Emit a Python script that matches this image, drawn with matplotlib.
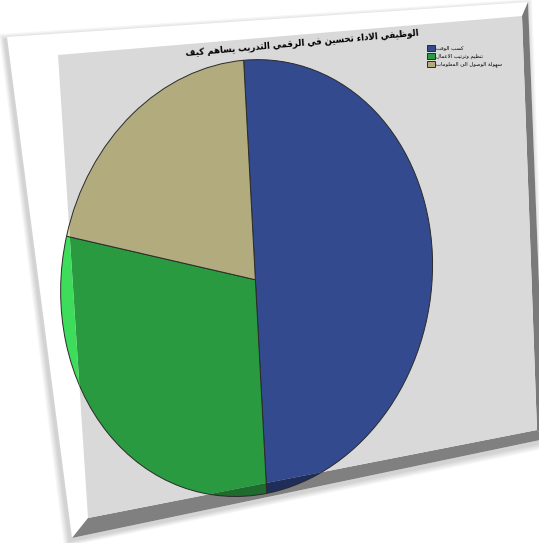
import numpy as np
import matplotlib.pyplot as plt
import matplotlib.transforms as mtransforms
from matplotlib.path import Path
from matplotlib.patches import Polygon

# survey answers (percent of respondents)
labels = ['كسب الوقت', 'تنظيم وترتيب الاعمال', 'سهولة الوصول الى المعلومات']
values = [50.0, 30.0, 20.0]
colors = ['#334a8e', '#2a9a40', '#b1ab7e']
colors_lit = ['#4a68c8', '#3ddc5a', '#d8d2a0']
colors_dark = ['#1f2d5a', '#1e6b2d', '#6f6b4e']
title = 'كيف يساهم التدريب الرقمي في تحسين الاداء الوظيفي'

# arabic presentation forms: isolated, final, initial, medial
FORMS = {
    'ا': (0xFE8D, 0xFE8E, None, None),
    'ب': (0xFE8F, 0xFE90, 0xFE91, 0xFE92),
    'ة': (0xFE93, 0xFE94, None, None),
    'ت': (0xFE95, 0xFE96, 0xFE97, 0xFE98),
    'ح': (0xFEA1, 0xFEA2, 0xFEA3, 0xFEA4),
    'د': (0xFEA9, 0xFEAA, None, None),
    'ر': (0xFEAD, 0xFEAE, None, None),
    'س': (0xFEB1, 0xFEB2, 0xFEB3, 0xFEB4),
    'ص': (0xFEB9, 0xFEBA, 0xFEBB, 0xFEBC),
    'ظ': (0xFEC5, 0xFEC6, 0xFEC7, 0xFEC8),
    'ع': (0xFEC9, 0xFECA, 0xFECB, 0xFECC),
    'ف': (0xFED1, 0xFED2, 0xFED3, 0xFED4),
    'ق': (0xFED5, 0xFED6, 0xFED7, 0xFED8),
    'ك': (0xFED9, 0xFEDA, 0xFEDB, 0xFEDC),
    'ل': (0xFEDD, 0xFEDE, 0xFEDF, 0xFEE0),
    'م': (0xFEE1, 0xFEE2, 0xFEE3, 0xFEE4),
    'ن': (0xFEE5, 0xFEE6, 0xFEE7, 0xFEE8),
    'ه': (0xFEE9, 0xFEEA, 0xFEEB, 0xFEEC),
    'و': (0xFEED, 0xFEEE, None, None),
    'ى': (0xFEEF, 0xFEF0, None, None),
    'ي': (0xFEF1, 0xFEF2, 0xFEF3, 0xFEF4),
    'ء': (0xFE80, None, None, None),
}


def shape_word(word):
    # join letters and return them in visual (left to right) order
    glyphs = []
    i = 0
    while i < len(word):
        if word[i] == 'ل' and i + 1 < len(word) and word[i + 1] == 'ا':
            glyphs.append('لا')
            i += 2
        else:
            glyphs.append(word[i])
            i += 1

    def joins_next(g):
        return g != 'لا' and FORMS[g][2] is not None

    def joins_prev(g):
        return g == 'لا' or FORMS[g][1] is not None

    out = []
    for k, g in enumerate(glyphs):
        prev = k > 0 and joins_next(glyphs[k - 1]) and joins_prev(g)
        nxt = k + 1 < len(glyphs) and joins_next(g) and joins_prev(glyphs[k + 1])
        if g == 'لا':
            out.append(chr(0xFEFC if prev else 0xFEFB))
            continue
        iso, fin, ini, med = FORMS[g]
        code = med if (prev and nxt) else fin if prev else ini if nxt else iso
        out.append(chr(code))
    return ''.join(reversed(out))


def rtl(text):
    return ' '.join(shape_word(w) for w in reversed(text.split()))


def homography(src, dst):
    rows = []
    for (x, y), (u, v) in zip(src, dst):
        rows.append([x, y, 1, 0, 0, 0, -u * x, -u * y, -u])
        rows.append([0, 0, 0, x, y, 1, -v * x, -v * y, -v])
    _, _, vt = np.linalg.svd(np.array(rows, float))
    return vt[-1].reshape(3, 3) / vt[-1, -1]


class Perspective(mtransforms.Transform):
    input_dims = output_dims = 2

    def __init__(self, H):
        super().__init__()
        self.H = H

    def transform_non_affine(self, values):
        xy = np.atleast_2d(np.asarray(values, float))
        p = np.column_stack([xy, np.ones(len(xy))]) @ self.H.T
        res = p[:, :2] / p[:, 2:3]
        return res.reshape(np.shape(values))

    def transform_path_non_affine(self, path):
        return Path(self.transform_non_affine(path.vertices), path.codes)


def closed_path(pts):
    verts = list(pts) + [pts[0]]
    codes = [Path.MOVETO] + [Path.LINETO] * (len(pts) - 1) + [Path.CLOSEPOLY]
    return Path(verts, codes)


# tilted card: outer face and recessed plot panel (pixel coords)
outer = [(7, 37), (528, 2), (545, 439), (72, 538)]
panel = [(58, 55), (522, 16), (537, 430), (88, 518)]
flat_w, flat_h = 569, 460
H = homography([(0, flat_h), (flat_w, flat_h), (flat_w, 0), (0, 0)], panel)

fig = plt.figure(figsize=(5.39, 5.43), dpi=100)
ax = fig.add_axes([0, 0, 1, 1])
ax.set_xlim(0, 539)
ax.set_ylim(543, 0)

# soft drop shadow
cx, cy = np.mean(outer, axis=0)
for d in [10, 8, 6, 4, 2]:
    pts = [(x + np.sign(x - cx) * d * 0.6 - 2, y + np.sign(y - cy) * d * 0.6 + 3)
           for x, y in outer]
    ax.add_patch(Polygon(pts, closed=True, facecolor='black', edgecolor='none', alpha=0.035))

ax.add_patch(Polygon(outer, closed=True, facecolor='white', edgecolor='none'))
right_side = [outer[1], outer[2], panel[2], panel[1]]
bottom_side = [outer[3], panel[3], panel[2], outer[2]]
left_side = [outer[0], panel[0], panel[3], outer[3]]
ax.add_patch(Polygon(right_side, closed=True, facecolor='#7a7a7a', edgecolor='none'))
ax.add_patch(Polygon(bottom_side, closed=True, facecolor='#808080', edgecolor='none'))
ax.add_patch(Polygon(panel, closed=True, facecolor='#d9d9d9', edgecolor='none'))

# pie drawn flat, then tilted; the parts hanging over the frame pick up its shading
persp = Perspective(H)
layers = [(colors, panel), (colors_lit, left_side), (colors_dark, bottom_side)]
main_wedges = None
for cols, region in layers:
    wedges, _ = ax.pie(values, colors=cols, startangle=90, counterclock=False,
                       center=(210.5, 214), radius=225, frame=True,
                       wedgeprops=dict(edgecolor='#2a2a2a', linewidth=0.7))
    for w in wedges:
        w.set_transform(persp + ax.transData)
        w.set_clip_on(True)
        w.set_clip_path(closed_path(region), ax.transData)
    if main_wedges is None:
        main_wedges = wedges

ax.set_xlim(0, 539)
ax.set_ylim(543, 0)
ax.set_aspect('auto')
ax.axis('off')

ax.text(302, 43, ' '.join(shape_word(w) for w in title.split()),
        fontsize=6.2, fontweight='bold', family='DejaVu Sans',
        ha='center', va='center', rotation=5, rotation_mode='anchor')

ax.legend(main_wedges, [rtl(t) for t in labels], loc='upper left',
          bbox_to_anchor=(424 / 539, 1 - 42 / 543), frameon=False,
          prop=dict(family='DejaVu Sans', size=3.8),
          handlelength=1.5, handleheight=1.4, handletextpad=0.35,
          labelspacing=0.35, borderpad=0)

fig.savefig('out.png', dpi=100)
